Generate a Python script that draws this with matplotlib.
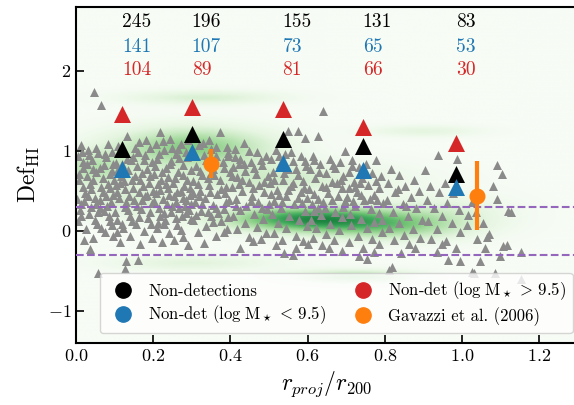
import numpy as np
import matplotlib
matplotlib.use('Agg')
import matplotlib.pyplot as plt
from matplotlib.lines import Line2D

plt.rcParams['font.family'] = 'serif'
plt.rcParams['font.serif'] = ['cmr10']
plt.rcParams['mathtext.fontset'] = 'cm'
plt.rcParams['axes.formatter.use_mathtext'] = True

# bins in projected radius: median position and median HI deficiency
bin_r = [0.12, 0.30, 0.535, 0.743, 0.984]
def_nondet = [1.02, 1.21, 1.15, 1.06, 0.71]
def_lowmass = [0.77, 0.99, 0.85, 0.76, 0.55]
def_highmass = [1.46, 1.55, 1.52, 1.30, 1.10]
n_nondet = [245, 196, 155, 131, 83]
n_lowmass = [141, 107, 73, 65, 53]
n_highmass = [104, 89, 81, 66, 30]

# Gavazzi et al. (2006)
gav_r = [0.35, 1.04]
gav_def = [0.84, 0.44]
gav_err = [0.185, 0.43]

# detected galaxies density (centre r, centre def, width r, width def, weight)
kde_r = [0.30, 0.60, 0.82, 0.72, 0.33, 0.04, 0.14, 0.90, 0.30, 0.50, 0.95]
kde_d = [1.05, 0.15, 0.05, -0.58, 1.67, 0.78, 0.35, 1.25, -0.40, 0.65, 0.25]
kde_sr = [0.14, 0.15, 0.14, 0.11, 0.14, 0.07, 0.10, 0.10, 0.15, 0.22, 0.12]
kde_sd = [0.17, 0.11, 0.12, 0.06, 0.06, 0.15, 0.15, 0.05, 0.07, 0.15, 0.14]
kde_w = [0.65, 1.00, 0.50, 0.50, 0.25, 0.40, 0.25, 0.18, 0.20, 0.30, 0.20]

# individual non-detections (r_proj/r200, Def_HI)
nondet_pts = [
    (0.012, 1.07), (0.047, 1.74), (0.065, 1.57), (0.031, 1.01), (0.083, 1.09), (0.058, 0.97),
    (0.004, 0.93), (0.094, 0.99), (0.041, 0.88), (0.072, 0.82), (0.019, 0.79), (0.087, 0.71),
    (0.053, 0.74), (0.008, 0.64), (0.036, 0.59), (0.098, 0.63), (0.066, 0.55), (0.024, 0.47),
    (0.079, 0.44), (0.049, 0.41), (0.091, 0.36), (0.014, 0.33), (0.061, 0.29), (0.033, 0.21),
    (0.085, 0.18), (0.006, 0.12), (0.054, 0.09), (0.027, 0.02), (0.076, -0.02), (0.043, -0.09),
    (0.096, -0.06), (0.036, -0.23), (0.058, -0.53), (0.018, 0.86), (0.069, 0.66), (0.039, 0.52),
    (0.089, 0.53), (0.002, 0.40), (0.057, 0.24), (0.092, 0.07), (0.021, -0.12), (0.045, 0.77),
    (0.077, 0.92), (0.028, 0.69), (0.063, 0.38), (0.011, 0.26), (0.081, 0.31), (0.049, 0.13),
    (0.097, 0.84), (0.034, 0.95),
    (0.016, 0.98), (0.052, 1.03), (0.074, 0.96), (0.029, 0.83), (0.061, 0.79), (0.093, 0.75),
    (0.009, 0.71), (0.044, 0.64), (0.082, 0.59), (0.017, 0.55), (0.071, 0.49), (0.031, 0.43),
    (0.096, 0.45), (0.052, 0.34), (0.022, 0.37), (0.073, 0.25), (0.038, 0.30), (0.088, 0.12),
    (0.013, 0.18), (0.066, 0.04),
    (0.133, 1.18), (0.108, 1.06), (0.164, 1.11), (0.191, 1.03), (0.122, 0.97), (0.147, 0.92),
    (0.179, 0.95), (0.103, 0.85), (0.158, 0.81), (0.136, 0.76), (0.196, 0.86), (0.117, 0.69),
    (0.171, 0.72), (0.144, 0.63), (0.189, 0.60), (0.104, 0.57), (0.128, 0.52), (0.162, 0.49),
    (0.183, 0.45), (0.111, 0.41), (0.149, 0.38), (0.197, 0.35), (0.126, 0.30), (0.169, 0.27),
    (0.139, 0.19), (0.187, 0.16), (0.107, 0.14), (0.155, 0.08), (0.123, 0.03), (0.176, 0.00),
    (0.141, -0.06), (0.198, -0.09), (0.115, -0.14), (0.166, -0.17), (0.127, -0.48), (0.130, -0.38),
    (0.160, -0.36), (0.152, 0.68), (0.119, 0.83), (0.185, 0.77), (0.137, 0.44), (0.174, 0.56),
    (0.102, 0.24), (0.193, 0.23), (0.146, 0.12), (0.113, 0.60), (0.181, 1.14), (0.129, 0.36),
    (0.161, 0.98), (0.199, 0.50), (0.142, 0.89), (0.105, -0.01), (0.172, 0.39),
    (0.114, 1.01), (0.153, 1.04), (0.176, 0.88), (0.131, 0.90), (0.109, 0.77), (0.167, 0.64),
    (0.124, 0.62), (0.193, 0.68), (0.148, 0.54), (0.106, 0.49), (0.178, 0.43), (0.134, 0.26),
    (0.158, 0.31), (0.194, 0.08), (0.118, 0.09), (0.163, 0.17),
    (0.218, 1.23), (0.206, 1.09), (0.243, 1.15), (0.272, 1.08), (0.291, 1.13), (0.229, 1.01),
    (0.258, 0.96), (0.284, 0.99), (0.211, 0.90), (0.247, 0.87), (0.276, 0.82), (0.233, 0.78),
    (0.264, 0.73), (0.299, 0.76), (0.203, 0.71), (0.221, 0.64), (0.252, 0.60), (0.287, 0.63),
    (0.239, 0.54), (0.271, 0.50), (0.208, 0.47), (0.295, 0.45), (0.226, 0.40), (0.259, 0.36),
    (0.283, 0.31), (0.214, 0.28), (0.246, 0.24), (0.274, 0.19), (0.231, 0.13), (0.297, 0.15),
    (0.261, 0.07), (0.209, 0.04), (0.242, -0.03), (0.278, -0.08), (0.224, -0.14), (0.289, -0.18),
    (0.255, -0.11), (0.267, 0.91), (0.238, 0.67), (0.212, 0.58), (0.281, 0.56), (0.255, 0.44),
    (0.236, 0.33), (0.292, 0.26), (0.218, 0.19), (0.268, 0.28), (0.249, 1.04), (0.205, 0.81),
    (0.285, 0.39), (0.227, 0.08),
    (0.226, 1.12), (0.263, 1.02), (0.214, 0.96), (0.287, 0.92), (0.244, 0.83), (0.223, 0.74),
    (0.278, 0.70), (0.256, 0.66), (0.232, 0.59), (0.296, 0.54), (0.217, 0.51), (0.262, 0.48),
    (0.241, 0.45), (0.276, 0.41), (0.203, 0.37), (0.298, 0.34), (0.249, 0.31), (0.229, 0.22),
    (0.286, 0.22), (0.258, 0.16), (0.213, 0.10), (0.272, 0.01),
    (0.373, 1.23), (0.318, 1.07), (0.344, 1.14), (0.391, 1.05), (0.307, 0.97), (0.362, 0.93),
    (0.336, 0.88), (0.381, 0.86), (0.311, 0.81), (0.354, 0.77), (0.398, 0.73), (0.327, 0.70),
    (0.372, 0.64), (0.304, 0.62), (0.345, 0.57), (0.389, 0.55), (0.321, 0.50), (0.366, 0.46),
    (0.334, 0.41), (0.397, 0.39), (0.308, 0.36), (0.356, 0.32), (0.383, 0.27), (0.325, 0.25),
    (0.349, 0.18), (0.302, 0.14), (0.376, 0.12), (0.338, 0.06), (0.391, 0.02), (0.315, -0.02),
    (0.362, -0.07), (0.331, -0.15), (0.383, -0.02), (0.395, 0.93), (0.351, 1.02), (0.319, 0.43),
    (0.368, 0.22), (0.342, 0.66), (0.385, 0.47),
    (0.328, 1.10), (0.362, 1.05), (0.331, 0.95), (0.393, 0.97), (0.347, 0.84), (0.321, 0.75),
    (0.383, 0.79), (0.358, 0.70), (0.317, 0.58), (0.376, 0.52), (0.346, 0.49), (0.304, 0.47),
    (0.389, 0.36), (0.327, 0.33), (0.363, 0.28), (0.343, 0.24), (0.312, 0.20), (0.393, 0.17),
    (0.356, 0.11),
    (0.435, 1.10), (0.412, 1.02), (0.468, 0.98), (0.491, 0.93), (0.424, 0.90), (0.453, 0.86),
    (0.406, 0.80), (0.482, 0.82), (0.439, 0.75), (0.466, 0.71), (0.418, 0.67), (0.497, 0.68),
    (0.447, 0.61), (0.475, 0.57), (0.403, 0.55), (0.431, 0.50), (0.488, 0.48), (0.456, 0.44),
    (0.414, 0.40), (0.472, 0.36), (0.441, 0.31), (0.499, 0.33), (0.426, 0.26), (0.462, 0.21),
    (0.408, 0.18), (0.485, 0.15), (0.437, 0.10), (0.469, 0.05), (0.416, 0.02), (0.493, -0.03),
    (0.448, -0.08), (0.425, -0.21), (0.458, -0.13), (0.478, -0.10), (0.421, 0.84), (0.459, 0.53),
    (0.494, 0.27), (0.429, 0.64),
    (0.447, 1.00), (0.411, 0.92), (0.478, 0.88), (0.436, 0.83), (0.462, 0.78), (0.404, 0.69),
    (0.486, 0.61), (0.423, 0.58), (0.453, 0.37), (0.415, 0.31), (0.483, 0.29),
    (0.550, 1.25), (0.576, 1.25), (0.593, 1.16), (0.517, 1.01), (0.541, 0.96), (0.582, 0.93),
    (0.506, 0.90), (0.563, 0.87), (0.528, 0.83), (0.597, 0.81), (0.548, 0.77), (0.511, 0.73),
    (0.574, 0.70), (0.536, 0.64), (0.589, 0.62), (0.503, 0.60), (0.557, 0.56), (0.521, 0.51),
    (0.584, 0.48), (0.543, 0.44), (0.599, 0.41), (0.514, 0.37), (0.566, 0.33), (0.532, 0.28),
    (0.592, 0.25), (0.507, 0.21), (0.553, 0.18), (0.578, 0.13), (0.524, 0.10), (0.598, 0.06),
    (0.545, 0.03), (0.512, -0.03), (0.569, -0.06), (0.587, -0.13), (0.533, -0.11), (0.540, -0.28),
    (0.563, -0.30), (0.519, -0.18), (0.571, -0.21), (0.556, 0.99), (0.527, 0.45), (0.586, 0.35),
    (0.561, 0.60),
    (0.526, 0.93), (0.594, 0.87), (0.539, 0.72), (0.571, 0.77), (0.512, 0.64), (0.591, 0.54),
    (0.548, 0.51), (0.505, 0.46), (0.575, 0.41), (0.534, 0.36),
    (0.628, 1.18), (0.640, 1.50), (0.698, 1.00), (0.613, 0.93), (0.657, 0.90), (0.684, 0.86),
    (0.631, 0.83), (0.606, 0.77), (0.672, 0.78), (0.648, 0.72), (0.693, 0.69), (0.619, 0.66),
    (0.664, 0.61), (0.637, 0.56), (0.688, 0.54), (0.604, 0.52), (0.653, 0.47), (0.679, 0.43),
    (0.626, 0.40), (0.697, 0.37), (0.612, 0.33), (0.645, 0.29), (0.671, 0.24), (0.634, 0.20),
    (0.689, 0.17), (0.608, 0.14), (0.658, 0.09), (0.623, 0.04), (0.682, 0.01), (0.647, -0.04),
    (0.614, -0.09), (0.669, -0.12), (0.638, -0.18), (0.688, -0.25), (0.656, -0.21), (0.602, -0.16),
    (0.675, 0.60), (0.641, 0.36), (0.617, 0.25),
    (0.617, 0.88), (0.666, 0.82), (0.629, 0.74), (0.687, 0.63), (0.648, 0.55), (0.616, 0.46),
    (0.664, 0.38), (0.693, 0.30), (0.628, 0.28),
    (0.716, 0.89), (0.752, 0.84), (0.778, 0.88), (0.733, 0.80), (0.706, 0.74), (0.766, 0.72),
    (0.742, 0.66), (0.791, 0.68), (0.719, 0.61), (0.757, 0.57), (0.784, 0.53), (0.729, 0.49),
    (0.771, 0.45), (0.703, 0.42), (0.747, 0.38), (0.796, 0.35), (0.724, 0.31), (0.763, 0.27),
    (0.711, 0.21), (0.786, 0.22), (0.738, 0.15), (0.773, 0.11), (0.712, 0.07), (0.755, 0.03),
    (0.794, -0.01), (0.731, -0.06), (0.768, -0.10), (0.708, -0.14), (0.785, -0.17), (0.744, -0.21),
    (0.734, -0.32), (0.755, -0.35), (0.772, -0.26), (0.723, 0.55), (0.761, 0.40), (0.793, 0.13),
    (0.714, 0.81), (0.749, 0.74), (0.735, 0.60), (0.708, 0.53), (0.778, 0.62), (0.739, 0.45),
    (0.718, 0.37), (0.781, 0.39),
    (0.816, 0.77), (0.876, 0.64), (0.838, 0.70), (0.809, 0.60), (0.853, 0.56), (0.889, 0.50),
    (0.827, 0.48), (0.868, 0.42), (0.805, 0.38), (0.846, 0.33), (0.882, 0.29), (0.821, 0.24),
    (0.861, 0.19), (0.897, 0.13), (0.836, 0.10), (0.812, 0.04), (0.873, 0.02), (0.849, -0.05),
    (0.891, -0.09), (0.824, -0.11), (0.864, -0.16), (0.842, -0.28), (0.818, -0.45), (0.810, -0.49),
    (0.879, -0.21), (0.834, 0.52), (0.856, 0.31),
    (0.904, 0.76), (0.939, 0.95), (0.986, 0.90), (0.917, 0.56), (0.955, 0.60), (0.941, 0.49),
    (0.978, 0.47), (0.909, 0.39), (0.962, 0.35), (0.928, 0.28), (0.991, 0.26), (0.947, 0.19),
    (0.913, 0.12), (0.973, 0.10), (0.935, 0.02), (0.996, -0.01), (0.921, -0.10), (0.958, -0.13),
    (0.934, -0.26), (0.984, -0.22), (0.965, -0.36), (0.995, -0.38), (0.948, -0.17),
    (1.090, 0.82), (1.104, 0.71), (1.080, 0.56), (1.090, 0.40), (1.120, 0.25), (1.128, 0.24),
    (1.025, 0.36), (1.016, 0.20), (1.055, 0.10), (1.070, -0.04), (1.065, -0.08), (1.025, -0.51),
    (1.047, -0.38), (1.086, -0.53), (1.098, -0.32), (1.116, -0.18), (1.105, -0.19), (1.152, -0.26),
    (1.152, -0.60), (1.030, -0.53), (1.040, -0.10), (1.012, 0.07), (1.060, -0.22), (1.035, 0.24),
]

xmin, xmax = 0.0, 1.3
ymin, ymax = -1.4, 2.8

fig = plt.figure(figsize=(5.74, 4.05), dpi=100)
ax = fig.add_axes([0.1324, 0.1538, 0.8742, 0.8289])

# smooth density of the detections as background
gx, gy = np.meshgrid(np.linspace(xmin, xmax, 400), np.linspace(ymin, ymax, 400))
dens = np.zeros_like(gx)
for cx, cy, sx, sy, w in zip(kde_r, kde_d, kde_sr, kde_sd, kde_w):
    dens += w * np.exp(-0.5 * (((gx - cx) / sx) ** 2 + ((gy - cy) / sy) ** 2))
ax.imshow(dens, extent=[xmin, xmax, ymin, ymax], origin='lower', aspect='auto',
          cmap='Greens', vmin=0, vmax=dens.max() / 0.78, interpolation='bilinear', zorder=0)

pts = np.array(nondet_pts)
ax.scatter(pts[:, 0], pts[:, 1], marker='^', s=42, color='#8a8a8a', lw=0, zorder=2)

ax.axhline(0.3, color='tab:purple', ls='--', lw=1.5, zorder=3)
ax.axhline(-0.3, color='tab:purple', ls='--', lw=1.5, zorder=3)

ax.scatter(bin_r, def_highmass, marker='^', s=150, color='tab:red', lw=0, zorder=4)
ax.scatter(bin_r, def_nondet, marker='^', s=150, color='black', lw=0, zorder=4)
ax.scatter(bin_r, def_lowmass, marker='^', s=150, color='tab:blue', lw=0, zorder=4)
ax.errorbar(gav_r, gav_def, yerr=gav_err, fmt='o', color='tab:orange', ms=10.5,
            elinewidth=3, capsize=0, zorder=5)

for r, a, b, c in zip(bin_r, n_nondet, n_lowmass, n_highmass):
    ax.text(r, 2.61, str(a), color='black', fontsize=14, ha='left', va='center')
    ax.text(r, 2.30, str(b), color='tab:blue', fontsize=14, ha='left', va='center')
    ax.text(r, 2.01, str(c), color='tab:red', fontsize=14, ha='left', va='center')

handles = [
    Line2D([], [], marker='o', ls='none', color='black', ms=11),
    Line2D([], [], marker='o', ls='none', color='tab:blue', ms=11),
    Line2D([], [], marker='o', ls='none', color='tab:red', ms=11),
    Line2D([], [], marker='o', ls='none', color='tab:orange', ms=11),
]
labels = ['Non-detections', r'Non-det ($\log\,\mathrm{M}_\star\, <\, 9.5$)',
          r'Non-det ($\log\,\mathrm{M}_\star\, >\, 9.5$)', 'Gavazzi et al. (2006)']
ax.legend(handles, labels, ncol=2, loc='lower right', bbox_to_anchor=(0.99, 0.029),
          borderaxespad=0, fontsize=12, handletextpad=0.5, columnspacing=1.2,
          labelspacing=0.3, framealpha=0.8)

ax.set_xlim(xmin, xmax)
ax.set_ylim(ymin, ymax)
ax.set_xticks([0.0, 0.2, 0.4, 0.6, 0.8, 1.0, 1.2])
ax.set_yticks([-1, 0, 1, 2])
ax.tick_params(direction='in', length=6, width=1.2, labelsize=13, top=False, right=False)
for sp in ax.spines.values():
    sp.set_linewidth(1.5)

ax.set_xlabel(r'$r_{proj}/r_{200}$', fontsize=17)
ax.set_ylabel(r'$\mathrm{Def}_{\mathrm{HI}}$', fontsize=17)

fig.savefig('out.png', dpi=100)
